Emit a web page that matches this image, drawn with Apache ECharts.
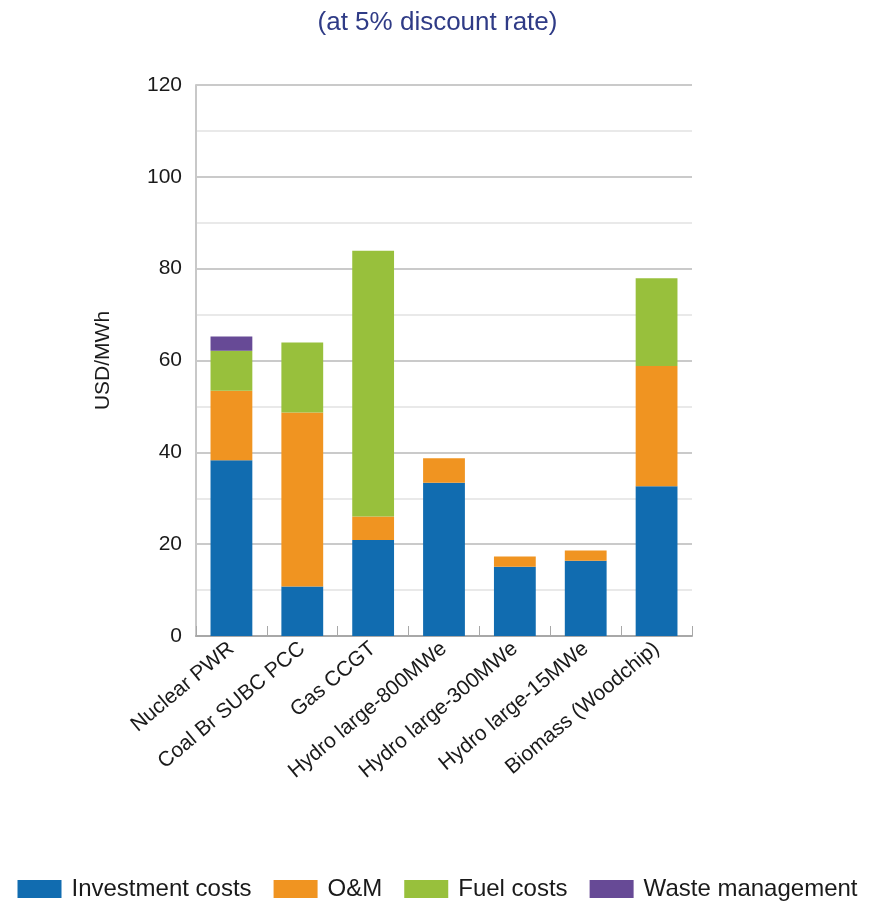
<!DOCTYPE html>
<html>
<head>
<meta charset="utf-8">
<script src="https://cdn.jsdelivr.net/npm/echarts@6/dist/echarts.min.js"></script>
<style>
  html, body { margin: 0; padding: 0; background: #fff; }
  #chart { width: 875px; height: 910px; }
</style>
</head>
<body>
<div id="chart"></div>
<script>
const categories = [
  'Nuclear PWR',
  'Coal Br SUBC PCC',
  'Gas CCGT',
  'Hydro large-800MWe',
  'Hydro large-300MWe',
  'Hydro large-15MWe',
  'Biomass (Woodchip)'
]
const investment = [38.3, 10.8, 20.9, 33.4, 15.1, 16.4, 32.6]
const om = [15.1, 37.9, 5.1, 5.3, 2.2, 2.2, 26.2]
const fuel = [8.7, 15.2, 57.9, 0, 0, 0, 19.1]
const waste = [3.1, 0, 0, 0, 0, 0, 0]
const yTicks = [0, 20, 40, 60, 80, 100, 120]

const font = '"Liberation Sans", sans-serif'

const chart = echarts.init(document.getElementById('chart'))

const makeSeries = (name, data, color) => ({
  name,
  type: 'bar',
  stack: 'cost',
  barWidth: '59%',
  itemStyle: { color },
  data
})

chart.setOption({
  animation: false,
  title: {
    text: '(at 5% discount rate)',
    left: 'center',
    top: 5,
    textStyle: {
      color: '#2f3b86',
      fontSize: 26,
      fontWeight: 'normal',
      fontFamily: font
    }
  },
  legend: {
    bottom: 4,
    left: 'center',
    itemWidth: 44,
    itemHeight: 18,
    itemGap: 22,
    icon: 'rect',
    textStyle: { fontSize: 24, color: '#1a1a1a', fontFamily: font, padding: [0, 0, 0, 5] },
    data: ['Investment costs', 'O&M', 'Fuel costs', 'Waste management']
  },
  grid: {
    left: 196,
    right: 183,
    top: 85,
    bottom: 274
  },
  xAxis: {
    type: 'category',
    data: categories,
    axisLine: { lineStyle: { color: '#a8a8a8', width: 2 } },
    axisTick: { show: true, inside: true, length: 10, lineStyle: { color: '#a8a8a8' } },
    axisLabel: {
      rotate: 40,
      fontSize: 21,
      color: '#1a1a1a',
      fontFamily: font,
      margin: 10
    }
  },
  yAxis: {
    type: 'value',
    min: 0,
    max: 120,
    interval: 20,
    name: 'USD/MWh',
    nameLocation: 'middle',
    nameGap: 82,
    nameRotate: 90,
    nameTextStyle: { fontSize: 21, color: '#1a1a1a', fontFamily: font },
    axisLine: { show: true, lineStyle: { color: '#c8c8c8', width: 2 } },
    axisTick: { show: false },
    axisLabel: {
      fontSize: 21,
      color: '#1a1a1a',
      fontFamily: font,
      margin: 14,
      formatter: v => (yTicks.includes(v) ? String(v) : '')
    },
    splitLine: { lineStyle: { color: '#b8b8b8', width: 1.5 } },
    minorTick: { show: false, splitNumber: 2 },
    minorSplitLine: { show: true, lineStyle: { color: '#e2e2e2', width: 1.5 } }
  },
  series: [
    makeSeries('Investment costs', investment, '#116cb0'),
    makeSeries('O&M', om, '#f09421'),
    makeSeries('Fuel costs', fuel, '#98c03c'),
    makeSeries('Waste management', waste, '#674a96')
  ]
})
</script>
</body>
</html>
